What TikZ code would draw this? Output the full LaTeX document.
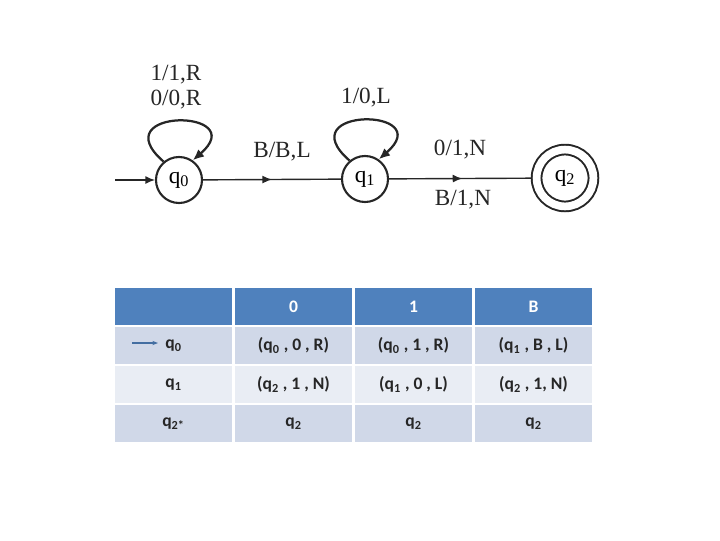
\documentclass[tikz,border=0pt]{standalone}
\usepackage{fontspec}
\setmainfont{Liberation Serif}
\newfontfamily\tabfont{Carlito}
\usetikzlibrary{arrows.meta,positioning,decorations.markings}
\definecolor{hdblue}{HTML}{4F81BD}
\definecolor{rowdark}{HTML}{D0D8E8}
\definecolor{rowlight}{HTML}{E9EDF4}
\definecolor{ink}{HTML}{262626}

\begin{document}
\begin{tikzpicture}[
  x=0.025cm, y=-0.025cm,
  font=\fontsize{16.5}{19}\selectfont,
  state/.style={circle, draw=ink, line width=1.5pt, minimum size=1.15cm,
                inner sep=0pt},
  accept/.style={circle, draw=ink, line width=1.4pt, double, double distance=5.5pt,
                 minimum size=1.42cm, inner sep=0pt},
  arr/.style={-{Latex[length=2.4mm,width=2mm]}, line width=1pt, draw=ink},
  looparr/.style={-{Latex[length=2.8mm,width=2.4mm]}, line width=1.6pt, draw=ink},
  midarr/.style={line width=1pt, draw=ink, postaction={decorate},
                 decoration={markings,
                   mark=at position 0.5 with {\arrow{Latex[length=2.4mm,width=2mm]}}}},
  lbl/.style={inner sep=0pt, text=ink},
  cell/.style={rectangle, minimum width=2.925cm, minimum height=0.925cm,
               inner sep=0pt, text=black!85,
               font=\tabfont\bfseries\fontsize{12.5}{14}\selectfont},
  hd/.style={cell, fill=hdblue, text=white},
  dk/.style={cell, fill=rowdark},
  lt/.style={cell, fill=rowlight}
]
  \useasboundingbox (0,0) rectangle (720,540);

  % machine
  \node[state]  (q0) at (179,180) {q\textsubscript{0}};
  \node[state]  (q1) at (365,179) {q\textsubscript{1}};
  \node[accept] (q2) at (565,178) {q\textsubscript{2}};
  \coordinate (start) at (115,180);

  \draw[arr] (start) -- (q0);
  \draw[looparr] (q0.130) .. controls +(-62,-54) and +(60,-52) .. (q0.55);
  \draw[looparr] (q1.130) .. controls +(-62,-54) and +(60,-52) .. (q1.55);
  \draw[midarr] (q0) -- (q1);
  \draw[midarr, shorten >=3pt] (q1) -- (q2);

  \node[lbl] (l0a) at (176,75)  {1/1,R};
  \node[lbl] (l0b) at (176,100) {0/0,R};
  \node[lbl] (l1)  at (366,98)  {1/0,L};
  \node[lbl] (l01) at (282,152) {B/B,L};
  \node[lbl] (l12a) at (460,150) {0/1,N};
  \node[lbl] (l12b) at (463,200) {B/1,N};

  % transition table
  \node[hd] (h0) at (173.5,306.5) {};
  \node[hd] (h1) at (293.5,306.5) {0};
  \node[hd] (h2) at (413.5,306.5) {1};
  \node[hd] (h3) at (533.5,306.5) {B};

  \node[dk] (a0) at (173.5,345.5) {q\textsubscript{0}};
  \node[dk] (a1) at (293.5,345.5) {(q\textsubscript{0} , 0 , R)};
  \node[dk] (a2) at (413.5,345.5) {(q\textsubscript{0} , 1 , R)};
  \node[dk] (a3) at (533.5,345.5) {(q\textsubscript{1} , B , L)};

  \node[lt] (b0) at (173.5,384.5) {q\textsubscript{1}};
  \node[lt] (b1) at (293.5,384.5) {(q\textsubscript{2} , 1 , N)};
  \node[lt] (b2) at (413.5,384.5) {(q\textsubscript{1} , 0 , L)};
  \node[lt] (b3) at (533.5,384.5) {(q\textsubscript{2} , 1, N)};

  \node[dk] (c0) at (173.5,423.5) {q\textsubscript{2*}};
  \node[dk] (c1) at (293.5,423.5) {q\textsubscript{2}};
  \node[dk] (c2) at (413.5,423.5) {q\textsubscript{2}};
  \node[dk] (c3) at (533.5,423.5) {q\textsubscript{2}};

  % start marker in the table
  \coordinate (ts) at (132,343);
  \coordinate (te) at (158,343);
  \draw[-{Stealth[length=4pt]}, line width=0.9pt, draw=hdblue!85!black] (ts) -- (te);
\end{tikzpicture}
\end{document}
